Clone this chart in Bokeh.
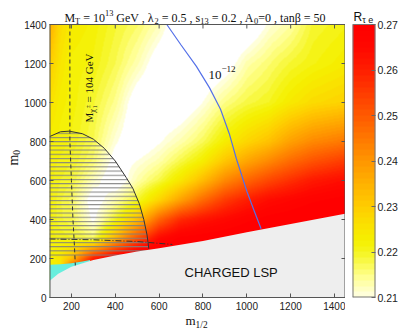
import numpy as np
from bokeh.plotting import figure
from bokeh.models import Range1d, LinearColorMapper, FixedTicker, Label, PrintfTickFormatter
from bokeh.layouts import row, column
from bokeh.embed import file_html
from bokeh.resources import INLINE

# ---------------- data ----------------
# R_tau_e on a coarse grid (columns: m12_nodes, one list per m0 row)
m12_nodes = [100, 150, 200, 300, 400, 500, 600, 700, 800, 900, 1000, 1100, 1200, 1300, 1450]
m0_nodes = [100, 200, 300, 400, 500, 600, 700, 800, 1000, 1200, 1400]
R_m0_100 = [0.222, 0.222, 0.270, 0.275, 0.275, 0.275, 0.275, 0.275, 0.275, 0.275, 0.275, 0.275, 0.275, 0.275, 0.275]
R_m0_200 = [0.222, 0.225, 0.232, 0.260, 0.270, 0.275, 0.275, 0.275, 0.275, 0.275, 0.275, 0.275, 0.275, 0.275, 0.275]
R_m0_300 = [0.222, 0.221, 0.220, 0.217, 0.235, 0.252, 0.265, 0.270, 0.271, 0.272, 0.273, 0.274, 0.275, 0.275, 0.275]
R_m0_400 = [0.222, 0.219, 0.218, 0.209, 0.220, 0.232, 0.248, 0.258, 0.262, 0.265, 0.268, 0.270, 0.271, 0.273, 0.274]
R_m0_500 = [0.222, 0.219, 0.217, 0.207, 0.213, 0.219, 0.228, 0.238, 0.247, 0.255, 0.260, 0.264, 0.266, 0.268, 0.270]
R_m0_600 = [0.222, 0.220, 0.219, 0.212, 0.206, 0.213, 0.218, 0.225, 0.233, 0.242, 0.248, 0.253, 0.257, 0.261, 0.264]
R_m0_700 = [0.222, 0.221, 0.220, 0.216, 0.208, 0.210, 0.213, 0.218, 0.223, 0.231, 0.237, 0.242, 0.247, 0.251, 0.255]
R_m0_800 = [0.223, 0.222, 0.221, 0.2175, 0.2105, 0.206, 0.2095, 0.213, 0.217, 0.223, 0.228, 0.232, 0.238, 0.242, 0.245]
R_m0_1000 = [0.226, 0.223, 0.222, 0.219, 0.2145, 0.207, 0.205, 0.206, 0.210, 0.215, 0.218, 0.220, 0.224, 0.227, 0.229]
R_m0_1200 = [0.230, 0.225, 0.222, 0.221, 0.2175, 0.213, 0.207, 0.205, 0.205, 0.207, 0.213, 0.216, 0.219, 0.221, 0.2235]
R_m0_1400 = [0.236, 0.227, 0.224, 0.222, 0.219, 0.2165, 0.2125, 0.205, 0.205, 0.205, 0.205, 0.2105, 0.2135, 0.219, 0.221]

# charged-LSP boundary (top edge of grey region)
lsp_m12 = [100, 140, 200, 300, 400, 500, 600, 800, 1000, 1200, 1450]
lsp_m0 = [84, 122, 158, 192, 215, 236, 253, 290, 334, 377, 430]
# cyan strip top edge
cyan_m12 = [100, 150, 200, 250, 285]
cyan_m0 = [168, 170, 176, 185, 192]
# black (semi-elliptic) curve bounding the hatched region
bc_m12 = [100, 150, 190, 250, 300, 350, 400, 450, 480, 510, 530, 545, 553]
bc_m0 = [825, 850, 853, 840, 812, 765, 700, 615, 560, 480, 400, 320, 250]
hatch_floor_m0 = 205
# chargino mass bound (dashed)
chi_m12 = [193, 193, 200, 207, 213, 218]
chi_m0 = [1400, 800, 600, 400, 280, 160]
# dash-dot line
dd_m12 = [100, 300, 500, 660]
dd_m0 = [300, 296, 287, 272]
# BR = 1e-12 contour (blue)
blue_m12 = [635, 700, 770, 830, 880, 920, 952, 1000, 1035, 1065]
blue_m0 = [1400, 1295, 1185, 1075, 965, 840, 713, 545, 440, 353]

x_ticks = [200, 400, 600, 800, 1000, 1200, 1400]
y_ticks = [0, 200, 400, 600, 800, 1000, 1200, 1400]
cb_ticks = [0.21, 0.22, 0.23, 0.24, 0.25, 0.26, 0.27]

X0, X1, Y0, Y1 = 100, 1450, 0, 1400
R0, R1 = 0.21, 0.27

# ---------------- colour map ----------------
pal_v = [0.21, 0.2125, 0.215, 0.2175, 0.22, 0.2225, 0.225, 0.23, 0.235, 0.24, 0.245, 0.25, 0.255, 0.26, 0.265, 0.27]
pal_r = [255, 255, 255, 250, 245, 245, 250, 255, 255, 255, 255, 255, 255, 255, 255, 255]
pal_g = [255, 255, 255, 250, 245, 240, 230, 205, 178, 150, 120, 90, 60, 30, 8, 0]
pal_b = [228, 185, 135, 80, 30, 0, 0, 0, 0, 0, 0, 0, 0, 0, 0, 0]
NLEV = 48
centers = R0 + (np.arange(NLEV) + 0.5) * ((R1 - R0) / NLEV)
palette = ["#%02x%02x%02x" % (int(np.interp(c, pal_v, pal_r)), int(np.interp(c, pal_v, pal_g)),
                              int(np.interp(c, pal_v, pal_b))) for c in centers]
mapper = LinearColorMapper(palette=palette, low=R0, high=R1, low_color="#ffffff", high_color="#ff0000")

# ---------------- field image ----------------
grid = np.array([R_m0_100, R_m0_200, R_m0_300, R_m0_400, R_m0_500, R_m0_600, R_m0_700,
                 R_m0_800, R_m0_1000, R_m0_1200, R_m0_1400])
NX, NY = 596, 546
xs = X0 + (np.arange(NX) + 0.5) * (X1 - X0) / NX
ys = Y0 + (np.arange(NY) + 0.5) * (Y1 - Y0) / NY
tmp = np.array([np.interp(xs, m12_nodes, r) for r in grid])
field = np.array([np.interp(ys, m0_nodes, tmp[:, j]) for j in range(NX)]).T

SERIF = "Liberation Serif"
SANS = "Liberation Sans"
W_SERIF = {' ': .25, '=': .564, 'M': .889, 'T': .611, 'G': .722, 'e': .444, 'V': .722, ',': .25, '.': .25,
           's': .389, 'A': .722, 't': .278, 'a': .444, 'n': .5, 'm': .778, '/': .278, '−': .564, 'λ': .55,
           'β': .5, 'χ': .55, '±': .564}
W_SANS = {' ': .278, 'R': .722, 'τ': .45, 'e': .556, 'C': .722, 'H': .722, 'A': .667, 'G': .778, 'E': .667,
          'D': .722, 'L': .556, 'S': .667, 'P': .667}


def tw(s, table):
    return sum(table.get(c, 0.5) for c in s)


def rich(fig, x, y, parts, size, font, table, rot=False, color="#111111"):
    """Place a run of text pieces (normal / sub / sup) starting at data point (x, y) on the baseline."""
    cur = 0.0
    for text, sc, sh, adv in parts:
        fs = size * sc
        shift = sh * size
        lead = tw(text[:len(text) - len(text.lstrip())], table) * fs
        if rot:
            xo, yo = -shift, cur + lead
        else:
            xo, yo = cur + lead, shift
        fig.add_layout(Label(x=x, y=y, x_offset=xo, y_offset=yo, text=text.strip(), text_font=font,
                             text_font_size="%.1fpx" % fs, text_align="left", text_baseline="alphabetic",
                             angle=(np.pi / 2 if rot else 0.0), text_color=color))
        if adv:
            cur += tw(text, table) * fs


# page geometry (pixels)
W, H = 408, 333
LEFT_STRIP = 21
FRAME_L, FRAME_T, FRAME_W, FRAME_H = 47, 24, 298, 273
BOTTOM_BORDER = 16
P_H = FRAME_T + FRAME_H + BOTTOM_BORDER
P_W = FRAME_L - LEFT_STRIP + FRAME_W
CB_GAP, CB_W = 7, 23
CB_FIG_W = W - LEFT_STRIP - P_W
SX = FRAME_W / (X1 - X0)
SY = FRAME_H / (Y1 - Y0)


def pg(px, py):
    """page pixel -> main-plot data coordinates"""
    return X0 + (px - FRAME_L) / SX, Y0 + (FRAME_T + FRAME_H - py) / SY


# ---------------- main figure (frame reaches the page top so the title fits inside it) ----------------
p = figure(width=P_W, height=P_H, x_range=Range1d(X0, X1),
           y_range=Range1d(Y0, Y0 + (FRAME_T + FRAME_H) / SY),
           output_backend="svg", toolbar_location=None,
           min_border_left=FRAME_L - LEFT_STRIP, min_border_right=0, min_border_top=0,
           min_border_bottom=BOTTOM_BORDER)
p.grid.visible = False
p.outline_line_color = None

p.image(image=[field], x=X0, y=Y0, dw=X1 - X0, dh=Y1 - Y0, color_mapper=mapper)
p.patch(cyan_m12 + [cyan_m12[-1], cyan_m12[0]], cyan_m0 + [0, 0], fill_color="#66eedd", line_color=None)
p.patch(bc_m12 + [bc_m12[-1], bc_m12[0]], bc_m0 + [hatch_floor_m0, hatch_floor_m0], fill_color=None,
        line_color=None, hatch_pattern="horizontal_line", hatch_color="#808080", hatch_scale=4.2,
        hatch_weight=1.0)
p.line(chi_m12, chi_m0, line_color="#333333", line_width=1, line_dash="4 3")
p.line(dd_m12, dd_m0, line_color="#333333", line_width=1, line_dash="6 2 1 2")
p.line(bc_m12, bc_m0, line_color="#333333", line_width=1)
p.line(blue_m12, blue_m0, line_color="#5470e8", line_width=1.2)
p.patch(lsp_m12 + [X1, X0], lsp_m0 + [Y0, Y0], fill_color="#eeeeee", line_color=None)

# frame box (left/right edges lie on the clip border, so width 2 shows as 1px)
p.segment(x0=[X0, X1], y0=[Y0, Y0], x1=[X0, X1], y1=[Y1, Y1], line_color="#555555", line_width=2)
p.segment(x0=[X0], y0=[Y1], x1=[X1], y1=[Y1], line_color="#555555", line_width=1)
# mirror ticks on top and right edges
p.ray(x=x_ticks, y=[Y1] * len(x_ticks), length=4, length_units="screen", angle=-np.pi / 2,
      line_color="#555555")
p.ray(x=[X1] * len(y_ticks), y=y_ticks, length=4, length_units="screen", angle=np.pi,
      line_color="#555555")

for axis, ticks in ((p.xaxis[0], x_ticks), (p.yaxis[0], y_ticks)):
    axis.ticker = FixedTicker(ticks=ticks)
    axis.major_tick_in = 4
    axis.major_tick_out = 0
    axis.minor_tick_in = 0
    axis.minor_tick_out = 0
    axis.major_label_text_font = SANS
    axis.major_label_text_font_size = "10px"
    axis.major_label_text_color = "#222222"
    axis.major_tick_line_color = "#555555"
p.xaxis[0].major_label_standoff = 4
p.yaxis[0].major_label_standoff = 3
p.xaxis[0].axis_line_color = "#555555"
p.yaxis[0].axis_line_color = None

rich(p, *pg(62, 17.3), [("M", 1, 0, True), ("T", .7, -.27, True), (" = 10", 1, 0, True), ("13", .7, .44, True),
                        (" GeV , λ", 1, 0, True), ("2", .7, -.27, True), (" = 0.5 , s", 1, 0, True),
                        ("13", .7, -.27, True), (" = 0.2 , A", 1, 0, True), ("0", .7, -.27, True),
                        ("=0 , tanβ = 50", 1, 0, True)], 12, SERIF, W_SERIF)
rich(p, *pg(207, 74), [("10", 1, 0, True), ("−12", .7, .42, True)], 13, SERIF, W_SERIF)
rich(p, *pg(87, 122), [("M", 1, 0, True), ("χ", .75, -.28, True), ("±", .55, .15, False),
                       ("1", .55, -.55, True), (" = 104 GeV", 1, 0, True)], 11, SERIF, W_SERIF, rot=True)
rich(p, *pg(183, 272), [("CHARGED LSP", 1, 0, True)], 13, SANS, W_SANS)

# ---------------- colour bar figure ----------------
CBS = FRAME_H / (R1 - R0)
cb = figure(width=CB_FIG_W, height=P_H, x_range=Range1d(0, 1),
            y_range=Range1d(R0, R0 + (FRAME_T + FRAME_H) / CBS),
            output_backend="svg", toolbar_location=None, x_axis_location=None, y_axis_location="right",
            min_border_left=CB_GAP, min_border_right=CB_FIG_W - CB_GAP - CB_W, min_border_top=0,
            min_border_bottom=BOTTOM_BORDER)
cb.grid.visible = False
cb.outline_line_color = None
grad = np.linspace(R0, R1, 240).reshape(-1, 1)
cb.image(image=[grad], x=0, y=R0, dw=1, dh=R1 - R0, color_mapper=mapper)
cb.segment(x0=[0, 1, 0], y0=[R0, R0, R0], x1=[0, 1, 1], y1=[R1, R1, R0], line_color="#777777", line_width=2)
cb.segment(x0=[0], y0=[R1], x1=[1], y1=[R1], line_color="#777777", line_width=1)
ya = cb.yaxis[0]
ya.ticker = FixedTicker(ticks=cb_ticks)
ya.formatter = PrintfTickFormatter(format="%.2f")
ya.major_tick_in = 4
ya.major_tick_out = 0
ya.minor_tick_in = 0
ya.minor_tick_out = 0
ya.axis_line_color = None
ya.major_tick_line_color = "#666666"
ya.major_label_text_font = SANS
ya.major_label_text_font_size = "10.5px"
ya.major_label_text_color = "#222222"
ya.major_label_standoff = 2

cb_x0 = FRAME_L + FRAME_W + CB_GAP
rich(cb, (353 - cb_x0) / CB_W, R0 + (FRAME_T + FRAME_H - 16) / CBS,
     [("R", 1, 0, True), ("τ e", .75, -.3, True)], 12, SANS, W_SANS)

# ---------------- strips for the axis titles ----------------
left = figure(width=LEFT_STRIP, height=P_H, x_range=Range1d(0, LEFT_STRIP), y_range=Range1d(P_H, 0),
              output_backend="svg", toolbar_location=None, x_axis_location=None, y_axis_location=None,
              min_border=0)
left.grid.visible = False
left.outline_line_color = None
rich(left, 12.5, 174, [("m", 1, 0, True), ("0", .68, -.25, True)], 14, SERIF, W_SERIF, rot=True)

bottom = figure(width=W, height=H - P_H, x_range=Range1d(0, W), y_range=Range1d(H, P_H),
                output_backend="svg", toolbar_location=None, x_axis_location=None, y_axis_location=None,
                min_border=0)
bottom.grid.visible = False
bottom.outline_line_color = None
rich(bottom, 185, 320, [("m", 1, 0, True), ("1/2", .72, -.32, True)], 13, SERIF, W_SERIF)

layout = column(row(left, p, cb, spacing=0), bottom, spacing=0)
open("out.html", "w").write(file_html(layout, INLINE))
